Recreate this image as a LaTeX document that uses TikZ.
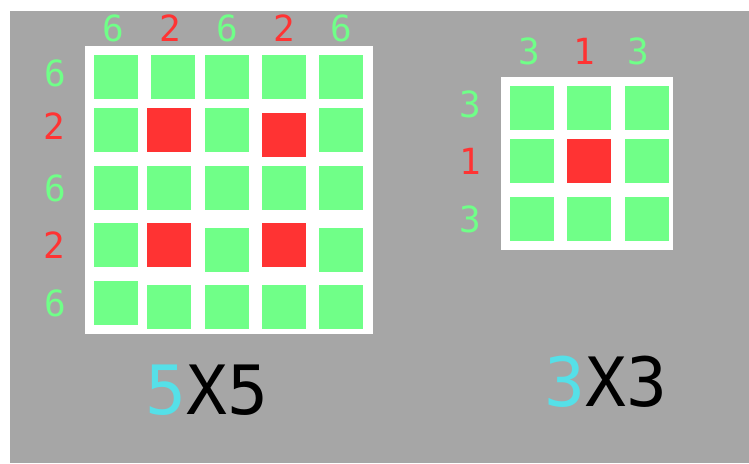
\documentclass[tikz,border=0pt]{standalone}
\usepackage{fontspec}
\setmonofont{DejaVu Sans Mono}
\definecolor{boardgray}{HTML}{A6A6A6}
\definecolor{litgreen}{HTML}{70FF88}
\definecolor{litred}{HTML}{FF3333}
\definecolor{titlecyan}{HTML}{55E0E8}
\newcommand{\cell}[3]{\fill[#3] (#1,#2) rectangle ++(44,44);}

\begin{document}
\begin{tikzpicture}[x=1pt,y=-1pt,
  clue/.style={font=\ttfamily\fontsize{36}{36}\selectfont,inner sep=0pt},
  title/.style={font=\ttfamily\fontsize{68}{68}\selectfont,inner sep=0pt}]
 \useasboundingbox (0,0) rectangle (749,463);
 \fill[boardgray] (10,11) rectangle (749,463);
 % 5x5 board
 \fill[white] (85,46) rectangle (373,334);
 \cell{94}{55}{litgreen} \cell{151}{55}{litgreen} \cell{205}{55}{litgreen} \cell{262}{55}{litgreen} \cell{319}{55}{litgreen}
 \cell{94}{108}{litgreen} \cell{147}{108}{litred} \cell{205}{108}{litgreen} \cell{262}{113}{litred} \cell{319}{108}{litgreen}
 \cell{94}{166}{litgreen} \cell{147}{166}{litgreen} \cell{205}{166}{litgreen} \cell{262}{166}{litgreen} \cell{319}{166}{litgreen}
 \cell{94}{223}{litgreen} \cell{147}{223}{litred} \cell{205}{228}{litgreen} \cell{262}{223}{litred} \cell{319}{228}{litgreen}
 \cell{94}{281}{litgreen} \cell{147}{285}{litgreen} \cell{205}{285}{litgreen} \cell{262}{285}{litgreen} \cell{319}{285}{litgreen}
 \node[clue,litgreen] (c1) at (113,28) {6};
 \node[clue,litred]   (c2) at (170,28) {2};
 \node[clue,litgreen] (c3) at (227,28) {6};
 \node[clue,litred]   (c4) at (284,28) {2};
 \node[clue,litgreen] (c5) at (341,28) {6};
 \node[clue,litgreen] (r1) at (55,73) {6};
 \node[clue,litred]   (r2) at (54,126) {2};
 \node[clue,litgreen] (r3) at (55,188) {6};
 \node[clue,litred]   (r4) at (54,245) {2};
 \node[clue,litgreen] (r5) at (55,303) {6};
 \node[title] (big) at (207,390) {\textcolor{titlecyan}{5}X5};
 % 3x3 board
 \fill[white] (501,77) rectangle (673,250);
 \cell{510}{86}{litgreen} \cell{567}{86}{litgreen} \cell{625}{86}{litgreen}
 \cell{510}{139}{litgreen} \cell{567}{139}{litred} \cell{625}{139}{litgreen}
 \cell{510}{197}{litgreen} \cell{567}{197}{litgreen} \cell{625}{197}{litgreen}
 \node[clue,litgreen] (d1) at (529,51) {3};
 \node[clue,litred]   (d2) at (584,51) {1};
 \node[clue,litgreen] (d3) at (638,51) {3};
 \node[clue,litgreen] (s1) at (470,104) {3};
 \node[clue,litred]   (s2) at (470,161) {1};
 \node[clue,litgreen] (s3) at (470,219) {3};
 \node[title] (small) at (606,382) {\textcolor{titlecyan}{3}X3};
\end{tikzpicture}
\end{document}
